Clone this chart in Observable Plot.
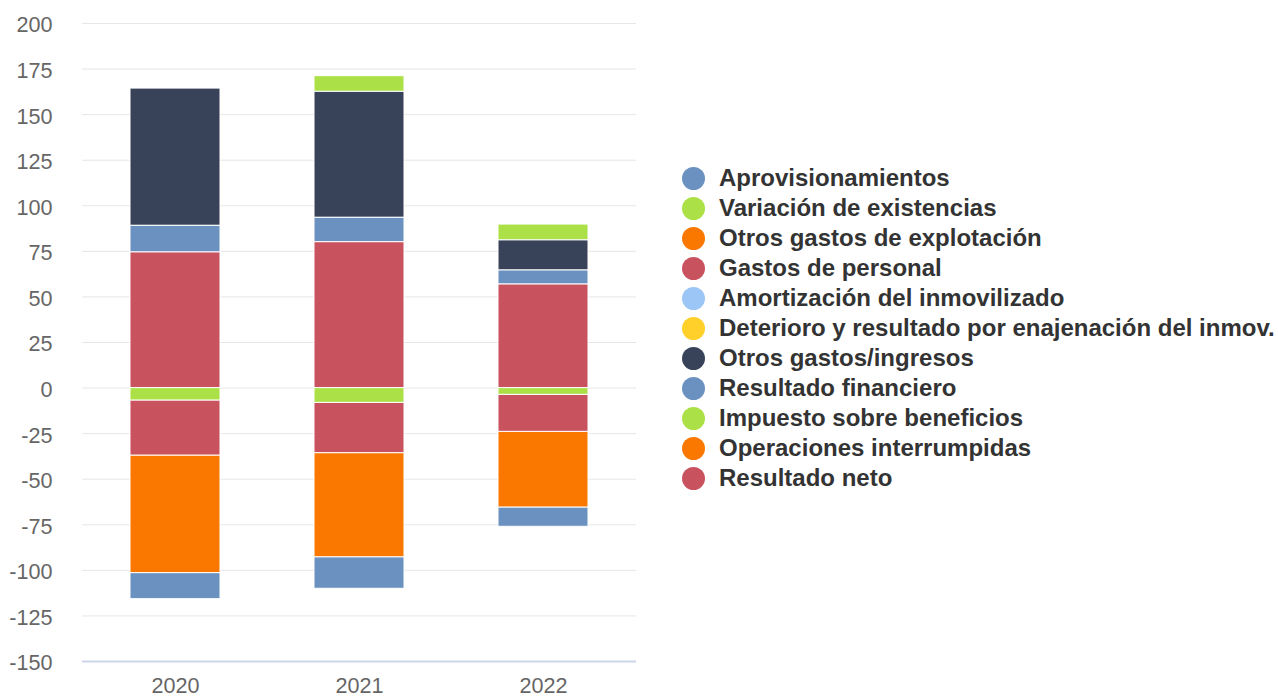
<!DOCTYPE html>
<html>
<head>
<meta charset="utf-8">
<script src="https://cdn.jsdelivr.net/npm/d3@7"></script>
<script src="https://cdn.jsdelivr.net/npm/@observablehq/plot@0.6"></script>
<style>
  body { margin: 0; background: #fff; font-family: "Liberation Sans", Arial, sans-serif; }
  #wrap { position: relative; width: 1278px; height: 700px; overflow: hidden; }
  #chart { position: absolute; left: 0; top: 0; }
  #legend { position: absolute; left: 681.5px; top: 163.2px; }
  .item { display: flex; align-items: center; height: 30px; font-weight: bold; font-size: 24px; color: #333; white-space: nowrap; }
  .sw { width: 23px; height: 23px; border-radius: 50%; margin-right: 14.5px; flex: none; }
</style>
</head>
<body>
<div id="wrap">
  <div id="chart"></div>
  <div id="legend"></div>
</div>
<script>
// ---- data ----
const years = ["2020", "2021", "2022"];
const seriesNames = [
  "Aprovisionamientos",
  "Variación de existencias",
  "Otros gastos de explotación",
  "Gastos de personal",
  "Amortización del inmovilizado",
  "Deterioro y resultado por enajenación del inmov.",
  "Otros gastos/ingresos",
  "Resultado financiero",
  "Impuesto sobre beneficios",
  "Operaciones interrumpidas",
  "Resultado neto"
];
const seriesColors = [
  "#6b91c1", "#abe047", "#fa7800", "#c9525f", "#9cc6f5", "#ffd02a",
  "#384259", "#6b91c1", "#abe047", "#fa7800", "#c9525f"
];
const aprovisionamientos = [-14.3, -17.3, -10.6];
const variacionExistencias = [0, 8.6, 8.7];
const otrosGastosExplotacion = [-64.5, -57.1, -41.5];
const gastosPersonal = [-30.2, -27.6, -20.3];
const amortizacion = [0, 0, 0];
const deterioro = [0, 0, 0];
const otrosGastosIngresos = [75.3, 69.1, 16.5];
const resultadoFinanciero = [14.6, 13.4, 7.7];
const impuestoBeneficios = [-6.8, -8.1, -3.7];
const operacionesInterrumpidas = [0, 0, 0];
const resultadoNeto = [74.4, 80.0, 56.8];
const yTicks = [-150, -125, -100, -75, -50, -25, 0, 25, 50, 75, 100, 125, 150, 175, 200];

const seriesValues = [
  aprovisionamientos, variacionExistencias, otrosGastosExplotacion, gastosPersonal,
  amortizacion, deterioro, otrosGastosIngresos, resultadoFinanciero,
  impuestoBeneficios, operacionesInterrumpidas, resultadoNeto
];

const rows = [];
seriesNames.forEach((s, i) => {
  years.forEach((y, j) => {
    const v = seriesValues[i][j];
    if (v !== 0) rows.push({ serie: s, year: y, value: v });
  });
});
const stackOrder = seriesNames.slice().reverse();

const chart = Plot.plot({
  width: 640,
  height: 700,
  marginLeft: 82,
  marginRight: 4,
  marginTop: 23,
  marginBottom: 39,
  style: "font-family:'Liberation Sans',Arial,sans-serif;font-size:21.6px;background:white;overflow:visible;",
  x: { domain: years, paddingInner: 0.51, paddingOuter: 0.255, label: null },
  y: { domain: [-150, 200], label: null },
  color: { domain: seriesNames, range: seriesColors },
  marks: [
    Plot.ruleY(yTicks.filter(t => t !== -150), { stroke: "#e6e6e6", strokeWidth: 1 }),
    Plot.ruleY([-150], { stroke: "#ccd6eb", strokeWidth: 2 }),
    Plot.barY(rows, { x: "year", y: "value", fill: "serie", order: stackOrder, stroke: "white", strokeWidth: 1 }),
    Plot.axisY({ ticks: yTicks, tickSize: 0, tickPadding: 30, tickFormat: d => String(d), fill: "#666", dy: 2, label: null }),
    Plot.axisX({ tickSize: 0, tickPadding: 16, fill: "#666", label: null })
  ]
});
document.getElementById("chart").appendChild(chart);

const legend = document.getElementById("legend");
seriesNames.forEach((s, i) => {
  const item = document.createElement("div");
  item.className = "item";
  const sw = document.createElement("span");
  sw.className = "sw";
  sw.style.background = seriesColors[i];
  const t = document.createElement("span");
  t.textContent = s;
  item.appendChild(sw);
  item.appendChild(t);
  legend.appendChild(item);
});
</script>
</body>
</html>
